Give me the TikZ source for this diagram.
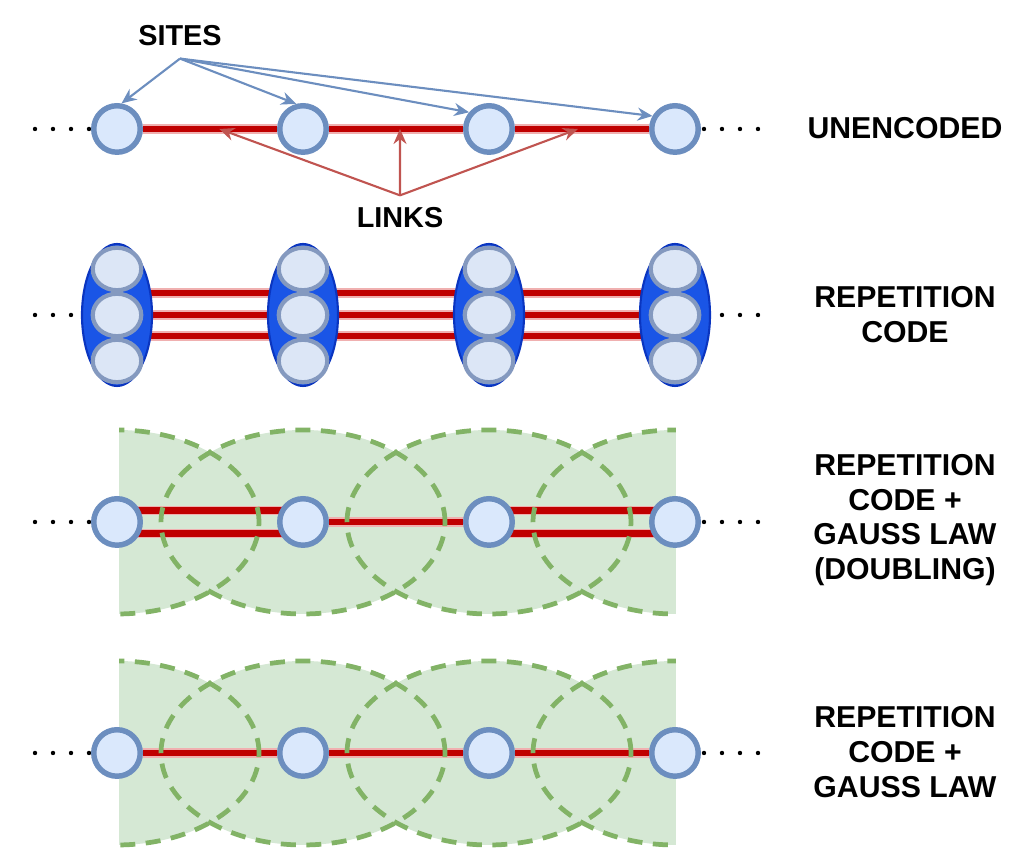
\documentclass[tikz,border=0pt]{standalone}
\usepackage{fontspec}
\setmainfont{Liberation Sans}
\usetikzlibrary{arrows.meta,shapes.geometric,backgrounds}
\definecolor{sitefill}{HTML}{DAE8FC}
\definecolor{sitedraw}{HTML}{6C8EBF}
\definecolor{qubitfill}{HTML}{DCE6F6}
\definecolor{qubitdraw}{HTML}{8499BF}
\definecolor{blockfill}{HTML}{1A55E6}
\definecolor{blockdraw}{HTML}{0A35C0}
\definecolor{linkred}{HTML}{C00000}
\definecolor{linkpink}{HTML}{F0B0B0}
\definecolor{arrowred}{HTML}{C05450}
\definecolor{gaussgreen}{HTML}{D5E8D4}
\definecolor{gaussdraw}{HTML}{82B366}
\tikzset{
site/.style={circle, draw=sitedraw, fill=sitefill, line width=1.55pt, minimum size=4.65mm, inner sep=0pt},
qubit/.style={ellipse, draw=qubitdraw, fill=qubitfill, line width=1.2pt, minimum width=4.85mm, minimum height=4.25mm, inner sep=0pt},
block/.style={ellipse, draw=blockdraw, fill=blockfill, line width=0.6pt, minimum width=7mm, minimum height=14.2mm, inner sep=0pt},
link/.style={draw=linkred, line width=1.8pt, preaction={draw=linkpink, line width=2.6pt}},
gaussfill/.style={fill=gaussgreen},
gaussline/.style={draw=gaussdraw, line width=1.35pt, dash pattern=on 1.5mm off 1.05mm},
sitearrow/.style={draw=sitedraw, line width=0.6pt, -{Stealth[length=1.5mm,width=1.3mm]}},
linkarrow/.style={draw=arrowred, line width=0.6pt, -{Stealth[length=1.5mm,width=1.3mm]}},
tag/.style={font=\bfseries\fontsize{8.2}{9.8}\selectfont},
rowlabel/.style={font=\bfseries\fontsize{8.6}{9.9}\selectfont, align=center},
dots/.pic={
  \foreach \d in {0,0.18,0.36,0.54}
    \fill (\d,0) circle [radius=0.022];
  }
}

\begin{document}
\begin{tikzpicture}
\useasboundingbox (0,0) rectangle (10.15,8.52);

% unencoded
\foreach \i/\x in {1/1.17,2/3.03,3/4.89,4/6.75}
  \node[site] (a\i) at (\x,7.23) {};
\node[tag] (siteslbl) at (1.80,8.16) {SITES};
\node[tag] (linkslbl) at (4.00,6.34) {LINKS};
\begin{scope}[on background layer]
  \pic at (0.35,7.23) {dots};
  \pic at (7.04,7.23) {dots};
  \draw[link] (a1) -- coordinate[pos=0.57] (l1) (a2);
  \draw[link] (a2) -- coordinate[pos=0.53] (l2) (a3);
  \draw[link] (a3) -- coordinate[pos=0.47] (l3) (a4);
\end{scope}
\draw[sitearrow] (siteslbl.south) -- (a1.80);
\draw[sitearrow] (siteslbl.south) -- (a2.105);
\draw[sitearrow] (siteslbl.south) -- (a3.140);
\draw[sitearrow] (siteslbl.south) -- (a4.150);
\draw[linkarrow] (linkslbl.north) -- (l1);
\draw[linkarrow] (linkslbl.north) -- (l2);
\draw[linkarrow] (linkslbl.north) -- (l3);

% repetition code
\foreach \i/\x in {1/1.17,2/3.03,3/4.89,4/6.75} {
  \node[block] (b\i) at (\x,5.37) {};
  \node[qubit] (qt\i) at (\x,5.83) {};
  \node[qubit] (qm\i) at (\x,5.37) {};
  \node[qubit] (qb\i) at (\x,4.91) {};
}
\begin{scope}[on background layer]
  \pic at (0.35,5.37) {dots};
  \pic at (7.04,5.37) {dots};
  \foreach \i/\j in {1/2,2/3,3/4}
    \foreach \s in {0.22,0,-0.21}
      \draw[link] ([yshift=\s cm]b\i.center) -- ([yshift=\s cm]b\j.center);
\end{scope}

% gauss law rows
\foreach \i/\x in {1/1.17,2/3.03,3/4.89,4/6.75} {
  \node[site] (c\i) at (\x,3.30) {};
  \node[site] (g\i) at (\x,0.99) {};
}
\begin{scope}[on background layer]
  \begin{scope}
    \clip (1.19,0) rectangle (6.76,4.4);
    \foreach \i in {1,...,4} {
      \fill[gaussfill] (c\i) ellipse [x radius=1.42, y radius=0.92];
      \fill[gaussfill] (g\i) ellipse [x radius=1.42, y radius=0.92];
    }
  \end{scope}
  \pic at (0.35,3.30) {dots};
  \pic at (7.04,3.30) {dots};
  \pic at (0.35,0.99) {dots};
  \pic at (7.04,0.99) {dots};
  \foreach \s in {0.115,-0.115} {
    \draw[link] ([yshift=\s cm]c1.center) -- ([yshift=\s cm]c2.center);
    \draw[link] ([yshift=\s cm]c3.center) -- ([yshift=\s cm]c4.center);
  }
  \draw[link] (c2) -- (c3);
  \draw[link] (g1) -- (g2);
  \draw[link] (g2) -- (g3);
  \draw[link] (g3) -- (g4);
  \begin{scope}
    \clip (1.19,0) rectangle (6.76,4.4);
    \foreach \i in {1,...,4} {
      \draw[gaussline] (c\i) ellipse [x radius=1.42, y radius=0.92];
      \draw[gaussline] (g\i) ellipse [x radius=1.42, y radius=0.92];
    }
  \end{scope}
\end{scope}

% row labels
\node[rowlabel] (lbla) at (9.05,7.24) {UNENCODED};
\node[rowlabel] (lblb) at (9.05,5.37) {REPETITION\\CODE};
\node[rowlabel] (lblc) at (9.05,3.32) {REPETITION\\CODE +\\GAUSS LAW\\(DOUBLING)};
\node[rowlabel] (lbld) at (9.05,1.00) {REPETITION\\CODE +\\GAUSS LAW};
\end{tikzpicture}
\end{document}
